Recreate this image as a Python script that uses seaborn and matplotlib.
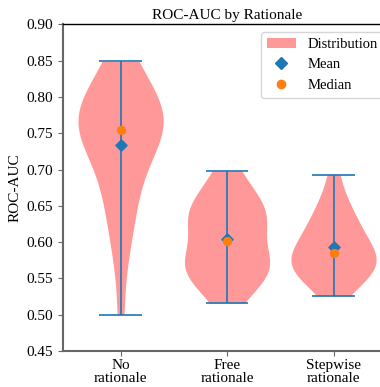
import matplotlib
matplotlib.use("Agg")
import matplotlib.pyplot as plt
from matplotlib.patches import Patch
from matplotlib.lines import Line2D
import seaborn as sns
import numpy as np
import pandas as pd

# Data (ROC-AUC values per rationale setting)
categories = ["No\nrationale", "Free\nrationale", "Stepwise\nrationale"]
no_rationale = [0.849, 0.843, 0.834, 0.822, 0.810, 0.800, 0.792, 0.786, 0.781, 0.777,
                0.773, 0.769, 0.765, 0.762, 0.758, 0.752, 0.748, 0.742, 0.734, 0.725,
                0.714, 0.702, 0.690, 0.676, 0.660, 0.643, 0.625, 0.603, 0.572, 0.500]
free_rationale = [0.516, 0.535, 0.548, 0.555, 0.560, 0.565, 0.570, 0.575, 0.582, 0.595,
                  0.607, 0.620, 0.630, 0.635, 0.640, 0.645, 0.652, 0.665, 0.680, 0.698]
stepwise_rationale = [0.526, 0.536, 0.545, 0.551, 0.556, 0.560, 0.564, 0.568, 0.572, 0.576,
                      0.579, 0.582, 0.588, 0.593, 0.598, 0.604, 0.610, 0.617, 0.624, 0.632,
                      0.641, 0.652, 0.666, 0.693]

groups = [no_rationale, free_rationale, stepwise_rationale]
df = pd.DataFrame({
    "group": np.repeat(categories, [len(g) for g in groups]),
    "auc": np.concatenate(groups),
})

plt.rcParams['font.family'] = ['Liberation Serif', 'DejaVu Serif']
plt.rcParams['font.size'] = 11

fig = plt.figure(figsize=(3.8, 3.87), dpi=100)
ax = fig.add_axes([0.166, 0.093, 0.863, 0.844])

sns.violinplot(data=df, x="group", y="auc", order=categories, cut=0, inner=None,
               density_norm="width", width=0.8, color="#ff9999", saturation=1,
               linewidth=0, ax=ax)

blue = "#1f77b4"
orange = "#ff7f0e"
for i, g in enumerate(groups):
    lo, hi = min(g), max(g)
    ax.vlines(i, lo, hi, color=blue, lw=1.2, zorder=3)
    ax.hlines([lo, hi], i - 0.2, i + 0.2, color=blue, lw=1.2, zorder=3)
    ax.scatter(i, np.mean(g), marker="D", s=32, color=blue, zorder=4)
    ax.scatter(i, np.median(g), marker="o", s=32, color=orange, zorder=5)

ax.set_xlim(-0.54, 2.54)
ax.set_ylim(0.45, 0.90)
yt = np.arange(0.45, 0.901, 0.05)
ax.set_yticks(yt)
ax.set_yticklabels([f"{v:.2f}" for v in yt], fontsize=11)
ax.set_xticks(range(len(categories)))
ax.set_xticklabels(categories, fontsize=11, linespacing=0.95)
ax.set_xlabel("")
ax.set_ylabel("ROC-AUC", fontsize=11)
ax.set_title("ROC-AUC by Rationale", fontsize=11, pad=4)

for side in ["left", "bottom"]:
    ax.spines[side].set_color("#666666")
    ax.spines[side].set_linewidth(1.5)
ax.spines["top"].set_color("black")
ax.spines["top"].set_linewidth(1.0)
ax.tick_params(colors="#666666", labelcolor="black", length=3.5)
ax.tick_params(axis="x", pad=2.5)

handles = [
    Patch(facecolor="#ff9999", label="Distribution"),
    Line2D([], [], marker="D", color=blue, linestyle="none", markersize=6, label="Mean"),
    Line2D([], [], marker="o", color=orange, linestyle="none", markersize=6, label="Median"),
]
ax.legend(handles=handles, loc="upper right", fontsize=10.5)

fig.savefig("out.png", dpi=100)
